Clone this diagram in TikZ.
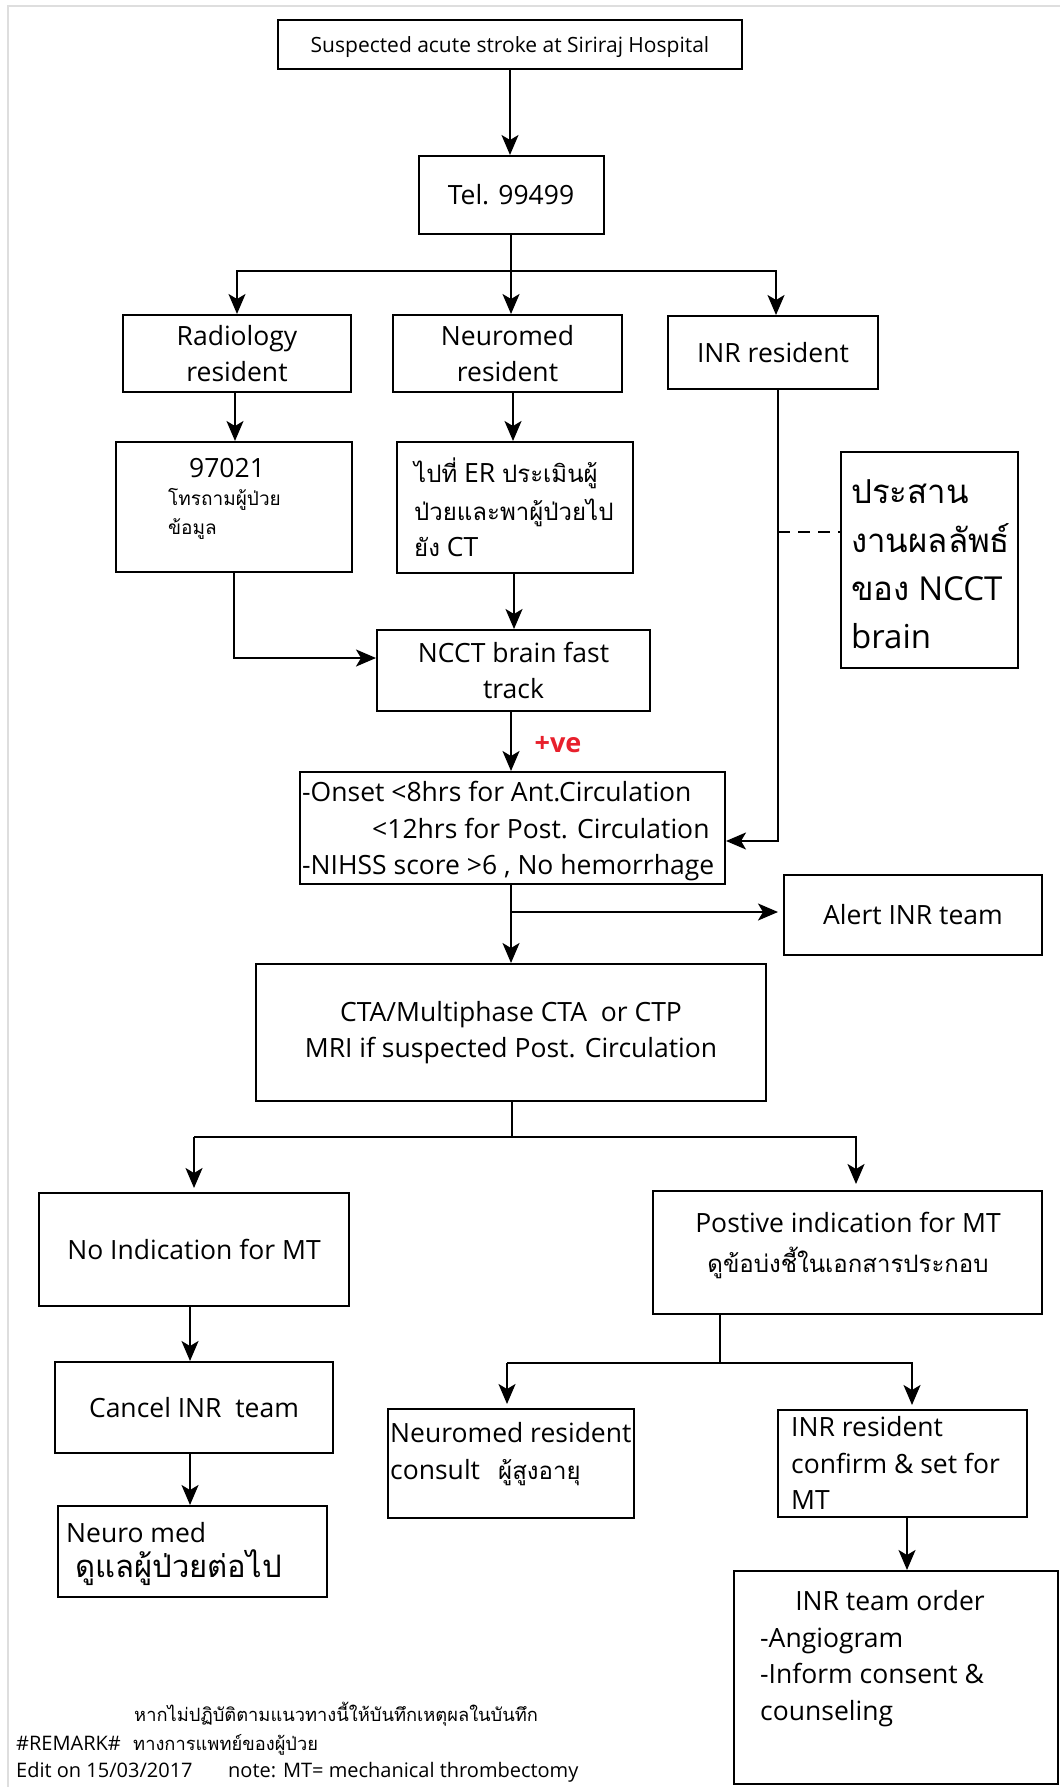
\documentclass[tikz,border=0pt]{standalone}
\usepackage{fontspec}
\setmainfont{Open Sans}
\newfontfamily\thai[Script=Thai]{Loma}
\usetikzlibrary{arrows.meta,calc}
\newcommand\fsz[2]{\fontsize{#1}{#2}\selectfont}
\definecolor{plusred}{RGB}{232,32,44}
\definecolor{framegray}{RGB}{222,222,222}
\begin{document}
\begin{tikzpicture}[x=1pt,y=-1pt,
  box/.style={draw, line width=2pt, inner sep=0pt, align=center, font=\fsz{26.5}{36}},
  txt/.style={inner sep=0pt, anchor=base west, font=\fsz{26.5}{36}},
  ctxt/.style={inner sep=0pt, anchor=base, font=\fsz{26.5}{36}},
  ln/.style={line width=2pt},
  arr/.style={line width=2pt, -{Stealth[length=20pt,width=17pt,inset=5pt]}}]
\useasboundingbox (0,0) rectangle (1060,1787);
\fill[white] (0,0) rectangle (1060,1787);
\draw[framegray, line width=2pt] (8,1787) -- (8,6) -- (1060,6);

% boxes
\node[box, font=\fsz{21}{24}, text depth=0pt, minimum width=464pt, minimum height=49pt] (top) at (510,45) {Suspected acute stroke at Siriraj Hospital};
\node[box, minimum width=185pt, minimum height=78pt] (tel) at (511,195) {Tel. 99499};
\node[box, minimum width=228pt, minimum height=77pt] (rad) at (237,353.5) {Radiology\\resident};
\node[box, minimum width=229pt, minimum height=77pt] (neu) at (507.5,353.5) {Neuromed\\resident};
\node[box, minimum width=210pt, minimum height=73pt] (inr) at (773,352.5) {INR resident};
\node[box, minimum width=236pt, minimum height=130pt] (call) at (234,507) {};
\node[box, minimum width=236pt, minimum height=131pt] (er) at (515,507.5) {};
\node[box, minimum width=177pt, minimum height=216pt] (coord) at (929.5,560) {};
\node[box, minimum width=273pt, minimum height=81pt] (ncct) at (513.5,670.5) {NCCT brain fast\\track};
\node[box, minimum width=425pt, minimum height=112pt] (crit) at (512.5,828) {};
\node[box, minimum width=258pt, minimum height=80pt] (alert) at (913,915) {Alert INR team};
\node[box, minimum width=510pt, minimum height=137pt] (cta) at (511,1032.5) {CTA/Multiphase CTA\ \ or CTP\\MRI if suspected Post. Circulation};
\node[box, minimum width=310pt, minimum height=113pt] (noind) at (194,1249.5) {No Indication for MT};
\node[box, minimum width=389pt, minimum height=123pt] (pos) at (847.5,1252.5) {};
\node[box, minimum width=278pt, minimum height=91pt] (cancel) at (194,1407.5) {Cancel INR\ \ team};
\node[box, minimum width=269pt, minimum height=91pt] (nmed) at (192.5,1551.5) {};
\node[box, minimum width=246pt, minimum height=109pt] (cons) at (511,1463.5) {};
\node[box, minimum width=249pt, minimum height=107pt] (conf) at (902.5,1463.5) {};
\node[box, minimum width=324pt, minimum height=213pt] (order) at (896,1677.5) {};

% texts inside boxes
\node[ctxt] (t97) at (227,477) {97021};
\node[txt, font=\fsz{19}{24}\thai] (t97a) at (168,505) {โทรถามผู้ป่วย};
\node[txt, font=\fsz{19}{24}\thai] (t97b) at (168,534) {ข้อมูล};
\node[txt] (ter1) at (414,482) {{\fsz{24}{36}\thai ไปที่} ER {\fsz{24}{36}\thai ประเมินผู้}};
\node[txt, font=\fsz{24}{36}\thai] (ter2) at (414,520) {ป่วยและพาผู้ป่วยไป};
\node[txt] (ter3) at (414,556) {{\fsz{24}{36}\thai ยัง} CT};
\node[txt, font=\fsz{33}{40}\thai] (tco1) at (851,503) {ประสาน};
\node[txt, font=\fsz{33}{40}\thai] (tco2) at (851,552) {งานผลลัพธ์};
\node[txt, font=\fsz{33}{40}] (tco3) at (851,600) {{\thai ของ} NCCT};
\node[txt, font=\fsz{33}{40}] (tco4) at (851,648) {brain};
\node[txt] (tcr1) at (302,801) {-Onset <8hrs for Ant.Circulation};
\node[txt] (tcr2) at (372,838) {<12hrs for Post. Circulation};
\node[txt] (tcr3) at (302,874) {-NIHSS score >6 , No hemorrhage};
\node[ctxt] (tpo1) at (848,1232) {Postive indication for MT};
\node[ctxt, font=\fsz{24}{36}\thai] (tpo2) at (848,1272) {ดูข้อบ่งชี้ในเอกสารประกอบ};
\node[txt] (tnm1) at (66,1542) {Neuro med};
\node[txt, font=\fsz{31}{36}\thai] (tnm2) at (75,1577) {ดูแลผู้ป่วยต่อไป};
\node[txt] (tcs1) at (390,1442) {Neuromed resident};
\node[txt] (tcs2) at (390,1479) {consult};
\node[txt, font=\fsz{24}{30}\thai] (tcs3) at (498,1479) {ผู้สูงอายุ};
\node[txt] (tcf1) at (791,1436) {INR resident};
\node[txt] (tcf2) at (791,1473) {confirm \& set for};
\node[txt] (tcf3) at (791,1509) {MT};
\node[ctxt] (tor1) at (890,1610) {INR team order};
\node[txt] (tor2) at (760,1647) {-Angiogram};
\node[txt] (tor3) at (760,1683) {-Inform consent \&};
\node[txt] (tor4) at (760,1720) {counseling};

% footer
\node[txt, font=\fsz{18.3}{22}\thai] (f1) at (134,1721) {หากไม่ปฏิบัติตามแนวทางนี้ให้บันทึกเหตุผลในบันทึก};
\node[txt, font=\fsz{20}{22}] (f2) at (16,1750) {\#REMARK\#};
\node[txt, font=\fsz{18.3}{22}\thai] (f2b) at (133,1750) {ทางการแพทย์ของผู้ป่วย};
\node[txt, font=\fsz{20}{22}] (f3) at (16,1777) {Edit on 15/03/2017};
\node[txt, font=\fsz{20}{22}] (f3b) at (228,1777) {note: MT= mechanical thrombectomy};

% connectors
\draw[arr] (top.south) -- (top.south |- tel.north);
\coordinate (j1) at (511,271);
\draw[ln] (tel.south) -- (j1);
\draw[arr] (j1) -| (rad.north);
\draw[arr] (j1) -- (j1 |- neu.north);
\coordinate (j1r) at (776,271);
\draw[arr] (j1) -- (j1r) -- (j1r |- inr.north);
\draw[arr] (rad.south -| 235,0) -- (235,0 |- call.north);
\draw[arr] (513,0 |- neu.south) -- (513,0 |- er.north);
\coordinate (inrturn) at (778,841);
\draw[arr] (inrturn |- inr.south) -- (inrturn) -- (inrturn -| crit.east);
\coordinate (dash0) at (778,532);
\draw[ln, dash pattern=on 12pt off 8pt] (dash0) -- (dash0 -| coord.west);
\coordinate (c97) at (234,658);
\draw[arr] (c97 |- call.south) -- (c97) -- (c97 -| ncct.west);
\draw[arr] (514,0 |- er.south) -- (514,0 |- ncct.north);
\draw[arr] (511,0 |- ncct.south) -- (511,0 |- crit.north);
\node[font=\fsz{27}{30}\bfseries, text=plusred, inner sep=0pt] (pve) at (558,745) {+ve};
\draw[arr] (511,0 |- crit.south) -- (511,0 |- cta.north);
\coordinate (calert) at (511,912);
\draw[arr, shorten >=5pt] (calert) -- (calert -| alert.west);
\coordinate (j2) at (512,1137);
\draw[ln] (j2 |- cta.south) -- (j2);
\coordinate (jn) at (194,1137);
\coordinate (jp) at (856,1137);
\draw[arr] (jn) -- (jp) -- ($(jp |- pos.north)+(0,-6)$);
\draw[arr] (jn) -- ($(jn |- noind.north)+(0,-4)$);
\draw[arr] (190,0 |- noind.south) -- (190,0 |- cancel.north);
\draw[arr] (190,0 |- cancel.south) -- (190,0 |- nmed.north);
\coordinate (j3) at (720,1363);
\draw[ln] (j3 |- pos.south) -- (j3);
\coordinate (j3l) at (507,1363);
\coordinate (j3r) at (912,1363);
\draw[arr] (j3l) -- (j3r) -- ($(j3r |- conf.north)+(0,-4)$);
\draw[arr] (j3l) -- ($(j3l |- cons.north)+(0,-4)$);
\draw[arr] (907,0 |- conf.south) -- (907,0 |- order.north);
\end{tikzpicture}
\end{document}
